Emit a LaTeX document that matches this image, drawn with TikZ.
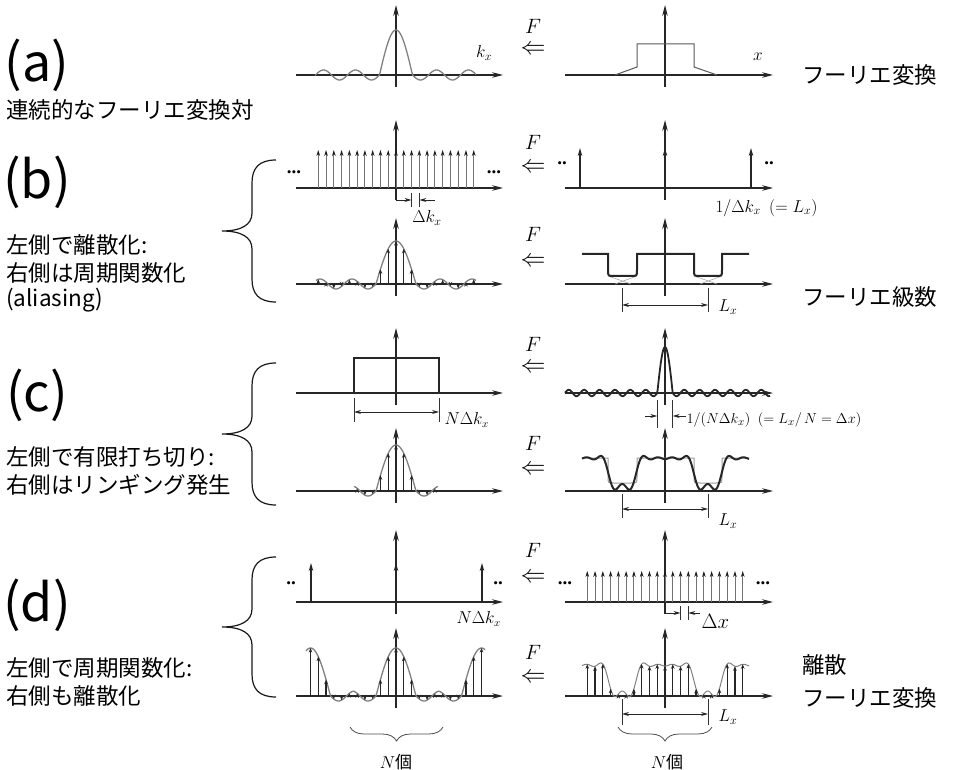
\documentclass[tikz,border=0pt]{standalone}
\usepackage{fontspec}
\setmainfont{Liberation Serif}
\newfontfamily\jp{Noto Sans CJK JP}
\usetikzlibrary{arrows.meta,decorations.pathreplacing}

\begin{document}
\begin{tikzpicture}[x=1pt,y=-1pt,
    axisline/.style={draw=black!85,line width=1.1pt,-{Stealth[length=11pt,width=5.5pt]}},
    spike/.style={draw=black!55,line width=0.9pt,-{Stealth[length=6pt,width=3.6pt,color=black!90]}},
    stem/.style={draw=black!85,line width=1.6pt,-{Stealth[length=8pt,width=4.5pt]}},
    samp/.style={draw=black!85,line width=1.2pt,-{Stealth[length=4.5pt,width=3.6pt]}},
    curve/.style={draw=black!50,line width=1.3pt},
    heavy/.style={draw=black!85,line width=2pt},
    dimline/.style={draw=black!85,line width=0.9pt,{Stealth[length=7pt,width=4pt]}-{Stealth[length=7pt,width=4pt]}},
    gap/.style={draw=black!85,line width=0.9pt,-{Stealth[length=7pt,width=4pt]}},
    dimtick/.style={draw=black!80,line width=0.6pt},
    bigbrace/.style={draw=black!90,line width=1.2pt},
    nbrace/.style={draw=black!70,line width=0.8pt,decorate,decoration={brace,mirror,amplitude=14pt}},
    big/.style={font=\jp\fontsize{52}{52}\selectfont},
    note/.style={font=\jp\fontsize{22.5}{26}\selectfont,anchor=west,inner sep=0pt},
    headtext/.style={font=\jp\fontsize{22.5}{28}\selectfont,anchor=west,inner sep=0pt},
    lbl/.style={font=\fontsize{17}{17}\selectfont},
    dots/.style={font=\bfseries\fontsize{19}{19}\selectfont,inner sep=0pt},
    fsym/.style={font=\fontsize{20}{20}\selectfont,inner sep=0pt},
    lsym/.style={font=\fontsize{27}{27}\selectfont,inner sep=0pt},
    declare function={
      lobe(\u,\a,\b,\h,\s)=(abs(\u)<\a)*\h*cos(90/\a*\u)-(abs(\u)>=\a)*\s*sin(180/\b*(abs(\u)-\a));
      ring(\u)=2/3+2*(0.2757*cos(4.2105*\u)-0.1378*cos(8.4211*\u)+0.0689*cos(16.8421*\u)-0.0551*cos(21.0526*\u));
    }]
  %\draw[help lines,step=50] (0,0) grid (978,770);
  \useasboundingbox (0,0) rectangle (978,770);

  % axes, left (k) and right (x)
  \foreach \y/\t in {75/5,188/120,284/218,393/328,491/428,602/530,696/628} {
    \draw[axisline] (296,\y) -- (503,\y);
    \draw[axisline] (396,\y+12) -- (396,\t);
    \draw[axisline] (565,\y) -- (773,\y);
    \draw[axisline] (665,\y+12) -- (665,\t);
  }
  % F over the double arrow, one per row
  \foreach \fy/\ay [count=\i] in {26/50,142/168,234/262,344/368,443/470,550/578,652/678} {
    \node[fsym] (f\i) at (533,\fy) {$F$};
    \node[lsym] (l\i) at (533,\ay) {$\Leftarrow$};
  }

  % (a)
  \node[big] (a) at (37,65) {(a)};
  \node[note] (na) at (6,110) {連続的なフーリエ変換対};
  \draw[curve] plot[domain=-81:80,samples=200] ({396+\x},{75-lobe(\x,16.5,16,45,5)});
  \node[lbl] (kx) at (484,53) {$k_x$};
  \draw[draw=black!65,line width=1pt] (615,75) -- (637,67) -- (637,44) -- (694,44) -- (694,67) -- (717,75);
  \node[lbl] (xa) at (758,57) {$x$};
  \node[headtext] (ha) at (802,75) {フーリエ変換};

  % (b)
  \node[big] (b) at (37,182) {(b)};
  \node[note] (nb1) at (6,245) {左側で離散化:};
  \node[note] (nb2) at (6,273) {右側は周期関数化};
  \node[note] (nb3) at (6,300) {(aliasing)};
  \draw[bigbrace] (276,160) .. controls (259,160) and (252,168) .. (252,183) -- (252,213)
    .. controls (252,225) and (241,231) .. (222,231) .. controls (241,231) and (252,237) .. (252,249)
    -- (252,279) .. controls (252,294) and (259,302) .. (276,302);
  \foreach \n in {-10,...,10}
    \draw[spike] ({396+7.773*\n},188) -- ({396+7.773*\n},150);
  \node[dots] (db1) at (294,172) {...};
  \node[dots] (db2) at (494,172) {...};
  \draw[gap] (396,200) -- (411.5,200);
  \draw[dimtick] (411.5,193) -- (411.5,207) (419.3,193) -- (419.3,207);
  \draw[gap] (435,200) -- (419.3,200);
  \node[lbl] (dk) at (427,218) {$\Delta k_x$};
  \foreach \xx in {580,665,751}
    \draw[stem] (\xx,188) -- (\xx,148);
  \node[dots] (db3) at (562,163) {..};
  \node[dots] (db4) at (769,163) {..};
  \node[lbl,anchor=west] (lxb) at (712,208) {$1/\Delta k_x\ \ (=L_x)$};

  \draw[curve] plot[domain=-80:80,samples=200] ({396+\x},{284-lobe(\x,20,16,43,5)});
  \foreach \n in {-10,...,10} {
    \pgfmathsetmacro\v{lobe(7.773*\n,20,16,43,5)}
    \draw[samp] ({396+7.773*\n},284) -- ({396+7.773*\n},{284-\v});
  }
  \draw[black!35,line width=0.6pt] (608,276) -- (631,284) (615,284) -- (637,276)
    (694,276) -- (717,284) (700,284) -- (722,276);
  \draw[heavy] (582,254) -- (608,254) -- (608,270) .. controls (608,276) .. (614,276) -- (631,276)
    .. controls (637,276) .. (637,270) -- (637,254) -- (694,254) -- (694,270)
    .. controls (694,276) .. (700,276) -- (716,276) .. controls (722,276) .. (722,270)
    -- (722,254) -- (749,254);
  \draw[dimtick] (622,288) -- (622,312) (708,288) -- (708,312);
  \draw[dimline] (622,305) -- (708,305);
  \node[lbl,anchor=west] (lx1) at (715,307) {$L_x$};
  \node[headtext] (hb) at (802,297) {フーリエ級数};

  % (c)
  \node[big] (c) at (37,395) {(c)};
  \node[note] (nc1) at (6,457) {左側で有限打ち切り:};
  \node[note] (nc2) at (6,485) {右側はリンギング発生};
  \draw[bigbrace] (276,363) .. controls (259,363) and (252,371) .. (252,386) -- (252,416)
    .. controls (252,428) and (241,434) .. (222,434) .. controls (241,434) and (252,440) .. (252,452)
    -- (252,482) .. controls (252,497) and (259,505) .. (276,505);
  \draw[heavy] (320,393) -- (354,393) -- (354,358) -- (439,358) -- (439,393) -- (470,393);
  \draw[dimtick] (354,398) -- (354,422) (439,398) -- (439,422);
  \draw[dimline] (354,412) -- (439,412);
  \node[lbl,anchor=west,font=\fontsize{16}{16}\selectfont] (nk1) at (441,420) {$N\Delta k_x$};
  \draw[heavy,line width=1.8pt] plot[domain=-100:105,samples=300] ({665+\x},{393-lobe(\x,7.7,7.7,46,3.2)});
  \draw[dimtick] (657.3,400) -- (657.3,428) (672.7,400) -- (672.7,428);
  \draw[gap] (645,416) -- (657.3,416);
  \draw[gap] (686,416) -- (672.7,416);
  \node[lbl,anchor=west,font=\fontsize{15.5}{16}\selectfont] (lxc) at (683,420) {$1/(N\Delta k_x)\ \ (=L_x/\,N=\Delta x)$};

  \draw[curve] plot[domain=-42:42,samples=100] ({396+\x},{491-lobe(\x,20,16,46,5)});
  \foreach \n in {-5,...,5} {
    \pgfmathsetmacro\v{lobe(7.773*\n,20,16,46,5)}
    \draw[samp] ({396+7.773*\n},491) -- ({396+7.773*\n},{491-\v});
  }
  \draw[draw=black!40,line width=1pt] (582,458) -- (608,458) -- (608,477) .. controls (608,483) .. (614,483)
    -- (631,483) .. controls (637,483) .. (637,477) -- (637,458) -- (694,458) -- (694,477)
    .. controls (694,483) .. (700,483) -- (716,483) .. controls (722,483) .. (722,477)
    -- (722,458) -- (749,458);
  \draw[heavy] plot[domain=-83:84,samples=200] ({665+\x},{491-(4.5+28.3*ring(\x))});
  \draw[dimtick] (622,494) -- (622,518) (708,494) -- (708,518);
  \draw[dimline] (622,509) -- (708,509);
  \node[lbl,anchor=west] (lx2) at (715,521) {$L_x$};

  % (d)
  \node[big] (d) at (37,605) {(d)};
  \node[note] (nd1) at (6,668) {左側で周期関数化:};
  \node[note] (nd2) at (6,696) {右側も離散化};
  \draw[bigbrace] (276,557) .. controls (259,557) and (252,565) .. (252,580) -- (252,609)
    .. controls (252,621) and (241,627) .. (222,627) .. controls (241,627) and (252,633) .. (252,645)
    -- (252,674) .. controls (252,689) and (259,697) .. (276,697);
  \foreach \xx in {311,396,482}
    \draw[stem] (\xx,602) -- (\xx,563);
  \node[dots] (dd1) at (291,583) {..};
  \node[dots] (dd2) at (498,583) {..};
  \node[lbl,anchor=west,font=\fontsize{16}{16}\selectfont] (nk2) at (453,619) {$N\Delta k_x$};
  \foreach \n in {-10,...,10}
    \draw[spike] ({665+7.773*\n},602) -- ({665+7.773*\n},571);
  \node[dots] (dd3) at (565,583) {...};
  \node[dots] (dd4) at (763,583) {...};
  \draw[gap] (665,613) -- (680.5,613);
  \draw[dimtick] (680.5,606) -- (680.5,620) (688.3,606) -- (688.3,620);
  \draw[gap] (700,613) -- (688.3,613);
  \node[font=\fontsize{22}{22}\selectfont,anchor=west] (dx) at (698,621) {$\Delta x$};

  \draw[curve] plot[domain=-90:89,samples=300] ({396+\x},{696-lobe(\x-85.5*round(\x/85.5),20,16,48,5)});
  \foreach \n in {-11,...,11} {
    \pgfmathsetmacro\v{lobe(7.773*\n-85.5*round(7.773*\n/85.5),20,16,48,5)}
    \draw[samp] ({396+7.773*\n},696) -- ({396+7.773*\n},{696-\v});
  }
  \draw[nbrace] (350,727) -- (443,727);
  \node[font=\fontsize{17}{17}\selectfont] (nn1) at (396,762) {$N$\jp 個};

  \draw[curve,line width=1pt] plot[domain=-83:84,samples=200] ({665+\x},{696-(2.5+28.3*ring(\x))});
  \foreach \n in {-10,...,10} {
    \pgfmathsetmacro\v{2.5+28.3*ring(7.773*\n)}
    \draw[samp] ({665+7.773*\n},696) -- ({665+7.773*\n},{696-\v});
  }
  \draw[dimtick] (622,699) -- (622,725) (708,699) -- (708,725);
  \draw[dimline] (622,714) -- (708,714);
  \node[lbl,anchor=west] (lx3) at (715,717) {$L_x$};
  \draw[nbrace] (618,727) -- (712,727);
  \node[font=\fontsize{17}{17}\selectfont] (nn2) at (667,762) {$N$\jp 個};
  \node[headtext] (hd1) at (802,665) {離散};
  \node[headtext] (hd2) at (802,698) {フーリエ変換};
\end{tikzpicture}
\end{document}
